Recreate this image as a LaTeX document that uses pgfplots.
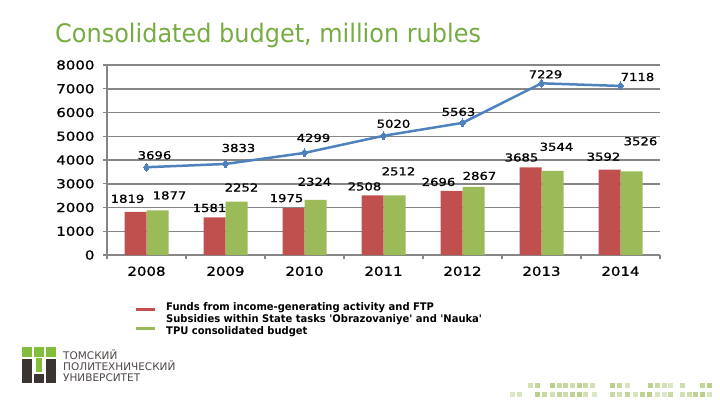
\documentclass[border=0pt]{standalone}
\usepackage{pgfplots}
\pgfplotsset{compat=1.18}
\usepackage{pgfplotstable}
\usepackage{fontspec}
\setmainfont{DejaVu Sans}
\newfontfamily\numfont[FakeStretch=1.2,FakeBold=1]{DejaVu Sans}
\newfontfamily\titlefont[FakeStretch=0.94]{DejaVu Sans}
\newfontfamily\legfont[FakeStretch=0.95]{DejaVu Sans}
\definecolor{cred}{RGB}{192,80,77}
\definecolor{cgreen}{RGB}{155,187,89}
\definecolor{cblue}{RGB}{79,129,189}
\definecolor{ctitle}{RGB}{118,172,66}
\definecolor{cgrid}{RGB}{134,134,134}
\definecolor{cdark}{RGB}{58,52,50}
\definecolor{clogo}{RGB}{130,190,60}

\pgfplotstableread{
x red rdx rdy green gdx gdy total tdx tdy
0 1819 -19 13 1877 23 15 3696 8 12
1 1581 -16 9.5 2252 16 14 3833 13 16
2 1975 -18 10 2324 10 18 4299 9 15
3 2508 -19 9 2512 15 24 5020 10 12
4 2696 -24 9 2867 17 11 5563 -4 11
5 3685 -20 10 3544 15 24 7229 4 9
6 3592 -17 13 3526 20 30 7118 17 9
}\data

\begin{document}
\begin{tikzpicture}[x=1pt,y=1pt]
\path (0,0) rectangle (720,405);
% title
\node[anchor=base west, text=ctitle, font=\titlefont\fontsize{25.5}{30}\selectfont, inner sep=0] at (55,362.5) {Consolidated budget, million rubles};

\begin{axis}[
  at={(107pt,150pt)}, anchor=south west,
  scale only axis, width=553pt, height=190pt,
  xmin=-0.5, xmax=6.5, ymin=0, ymax=8000,
  ytick={0,1000,...,8000},
  xtick={-0.5,0.5,1.5,2.5,3.5,4.5,5.5,6.5}, xticklabels={},
  extra x ticks={0,1,2,3,4,5,6},
  extra x tick labels={2008,2009,2010,2011,2012,2013,2014},
  extra x tick style={major tick length=0pt, grid=none},
  axis x line*=bottom, axis y line*=left,
  axis line style={draw=cgrid, line width=1.5pt},
  ymajorgrids, grid style={draw=cgrid, line width=1.5pt},
  tick style={draw=cgrid, line width=1.2pt},
  major tick length=4pt, tick align=outside,
  /pgf/number format/assume math mode=true,
  /pgf/number format/set thousands separator={},
  tick label style={font=\numfont\fontsize{12.5}{14}\selectfont, text=black},
  yticklabel style={xshift=-5pt},
  xticklabel style={yshift=-8pt},
  clip=false,
]
\addplot[ybar, bar width=22pt, bar shift=-11pt, fill=cred, draw=none,
  nodes near coords,
  visualization depends on={\thisrow{rdx} \as \dx},
  visualization depends on={\thisrow{rdy} \as \dy},
  every node near coord/.append style={anchor=center, xshift=\dx pt, yshift=\dy pt, font=\numfont\fontsize{11}{13}\selectfont, text=black, inner sep=0pt}]
  table[x=x, y=red] {\data};
\addplot[ybar, bar width=22pt, bar shift=11pt, fill=cgreen, draw=none,
  nodes near coords,
  visualization depends on={\thisrow{gdx} \as \dx},
  visualization depends on={\thisrow{gdy} \as \dy},
  every node near coord/.append style={anchor=center, xshift=\dx pt, yshift=\dy pt, font=\numfont\fontsize{11}{13}\selectfont, text=black, inner sep=0pt}]
  table[x=x, y=green] {\data};
\addplot[cblue, line width=2.5pt, mark=diamond*, mark size=4pt, mark options={fill=cblue, line width=0pt},
  nodes near coords,
  visualization depends on={\thisrow{tdx} \as \dx},
  visualization depends on={\thisrow{tdy} \as \dy},
  every node near coord/.append style={anchor=center, xshift=\dx pt, yshift=\dy pt, font=\numfont\fontsize{11}{13}\selectfont, text=black, inner sep=0pt}]
  table[x=x, y=total] {\data};
\end{axis}

% legend
\fill[cred] (136,94) rectangle (155,97.5);
\fill[cgreen] (136,75) rectangle (155,78.5);
\begin{scope}[every node/.style={anchor=base west, inner sep=0, font=\legfont\bfseries\fontsize{10.5}{12}\selectfont}]
\node at (166,94.5) {Funds from income-generating activity and FTP};
\node at (166,82.5) {Subsidies within State tasks 'Obrazovaniye' and 'Nauka'};
\node at (166,70.5) {TPU consolidated budget};
\end{scope}

% logo
\fill[clogo] (22,48) rectangle (32,58);
\fill[clogo] (34,48) rectangle (44,58);
\fill[clogo] (46,48) rectangle (56,58);
\fill[cdark] (22,22) rectangle (32,46);
\fill[clogo] (36,33) rectangle (42,47);
\fill[cdark] (34,22) rectangle (44,31);
\fill[cdark] (46,22) rectangle (56,46);
\begin{scope}[every node/.style={anchor=west, inner sep=0, text=cdark!90, font=\fontsize{10.5}{12}\selectfont}]
\node at (63,50) {ТОМСКИЙ};
\node at (63,39) {ПОЛИТЕХНИЧЕСКИЙ};
\node at (63,27) {УНИВЕРСИТЕТ};
\end{scope}

% decorative squares
\foreach \d/\o in {85/45,105/60,150/70,170/55,190/60,210/50,230/65,250/55,270/45,330/70,350/55,375/40,445/65,465/55,485/45,505/35,540/50,600/60,620/70}
  {\fill[cgreen!\o] ({500+\d/3},17) rectangle ({505+\d/3},22);}
\foreach \d/\o in {30/35,50/40,105/70,125/55,150/45,170/60,190/50,210/65,230/70,250/45,275/35,330/55,350/45,375/60,400/40,420/65,440/70,465/40,485/35,505/55,540/45,560/50,580/65,600/70,620/40}
  {\fill[cgreen!\o] ({500+\d/3},8) rectangle ({505+\d/3},13);}
\end{tikzpicture}
\end{document}
